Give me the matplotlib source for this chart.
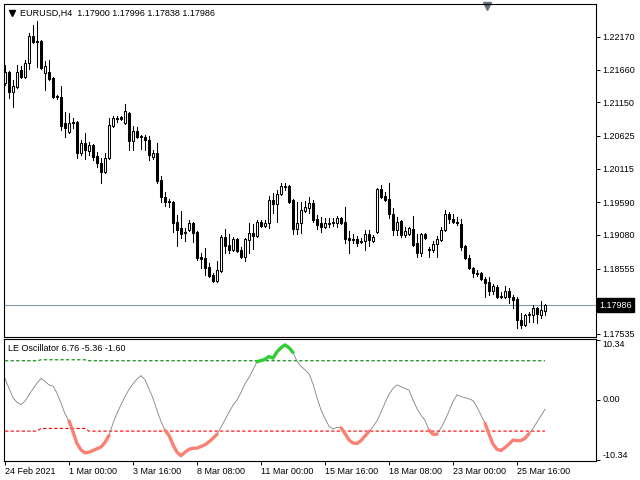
import numpy as np
import pandas as pd
import matplotlib
matplotlib.use('Agg')
import matplotlib.pyplot as plt
from matplotlib.patches import Rectangle
from matplotlib.transforms import blended_transform_factory

plt.rcParams['font.family'] = ['Liberation Sans', 'DejaVu Sans']
plt.rcParams['font.size'] = 6.5

symbol = 'EURUSD,H4'
start_time = '2021-02-24 08:00'

opens = [
    1.2145, 1.2162, 1.2131, 1.2139, 1.2165, 1.2155, 1.2176, 1.2218, 1.2211, 1.2211,
    1.2161, 1.2162, 1.2153, 1.2125, 1.2123, 1.2083, 1.2069, 1.2083, 1.2084, 1.2036,
    1.2052, 1.2039, 1.2048, 1.2031, 1.2020, 1.2006, 1.2028, 1.2078, 1.2089, 1.2092,
    1.2083, 1.2098, 1.2055, 1.2070, 1.2062, 1.2061, 1.2056, 1.2030, 1.2036, 1.1994,
    1.1967, 1.1961, 1.1959, 1.1928, 1.1919, 1.1913, 1.1916, 1.1927, 1.1913, 1.1874,
    1.1872, 1.1858, 1.1846, 1.1836, 1.1852, 1.1905, 1.1892, 1.1885, 1.1902, 1.1885,
    1.1874, 1.1900, 1.1911, 1.1906, 1.1928, 1.1922, 1.1927, 1.1963, 1.1956, 1.1972,
    1.1983, 1.1984, 1.1963, 1.1917, 1.1927, 1.1945, 1.1950, 1.1958, 1.1933, 1.1927,
    1.1920, 1.1927, 1.1927, 1.1927, 1.1935, 1.1928, 1.1903, 1.1902, 1.1902, 1.1899,
    1.1899, 1.1910, 1.1899, 1.1913, 1.1980, 1.1969, 1.1964, 1.1941, 1.1916, 1.1930,
    1.1908, 1.1910, 1.1917, 1.1896, 1.1880, 1.1910, 1.1886, 1.1885, 1.1894, 1.1900,
    1.1916, 1.1941, 1.1933, 1.1928, 1.1925, 1.1891, 1.1872, 1.1856, 1.1849, 1.1849,
    1.1839, 1.1835, 1.1821, 1.1827, 1.1813, 1.1811, 1.1821, 1.1811, 1.1808, 1.1775,
    1.1768, 1.1783, 1.1783, 1.1794, 1.1783, 1.17900]
highs = [
    1.2173, 1.2164, 1.2150, 1.2173, 1.2172, 1.2181, 1.2223, 1.2236, 1.2242, 1.2212,
    1.2180, 1.2181, 1.2155, 1.2126, 1.2140, 1.2100, 1.2098, 1.2091, 1.2086, 1.2056,
    1.2067, 1.2053, 1.2050, 1.2038, 1.2028, 1.2036, 1.2091, 1.2094, 1.2094, 1.2094,
    1.2112, 1.2100, 1.2078, 1.2077, 1.2064, 1.2064, 1.2062, 1.2041, 1.2052, 1.2000,
    1.1975, 1.1964, 1.1961, 1.1939, 1.1945, 1.1919, 1.1931, 1.1928, 1.1914, 1.1880,
    1.1888, 1.1864, 1.1849, 1.1867, 1.1908, 1.1917, 1.1910, 1.1905, 1.1903, 1.1889,
    1.1903, 1.1927, 1.1925, 1.1931, 1.1931, 1.1931, 1.1969, 1.1974, 1.1978, 1.1989,
    1.1989, 1.1986, 1.1964, 1.1959, 1.1959, 1.1961, 1.1967, 1.1963, 1.1939, 1.1936,
    1.1935, 1.1935, 1.1935, 1.1938, 1.1936, 1.1952, 1.1914, 1.1910, 1.1906, 1.1903,
    1.1916, 1.1916, 1.1908, 1.1981, 1.1986, 1.1975, 1.1989, 1.1950, 1.1936, 1.1931,
    1.1920, 1.1920, 1.1938, 1.1910, 1.1911, 1.1911, 1.1889, 1.1899, 1.1906, 1.1920,
    1.1947, 1.1944, 1.1941, 1.1936, 1.1933, 1.1892, 1.1877, 1.1858, 1.1853, 1.1850,
    1.1842, 1.1842, 1.1832, 1.1830, 1.1819, 1.1828, 1.1825, 1.1814, 1.1811, 1.1786,
    1.1785, 1.1788, 1.1799, 1.1796, 1.1805, 1.17996]
lows = [
    1.2142, 1.2122, 1.2108, 1.2137, 1.2153, 1.2153, 1.2167, 1.2208, 1.2170, 1.2167,
    1.2134, 1.2150, 1.2122, 1.2120, 1.2072, 1.2061, 1.2067, 1.2075, 1.2028, 1.2033,
    1.2027, 1.2033, 1.2025, 1.2014, 1.1989, 1.2005, 1.2027, 1.2077, 1.2084, 1.2087,
    1.2081, 1.2041, 1.2041, 1.2059, 1.2042, 1.2041, 1.2025, 1.2027, 1.1989, 1.1959,
    1.1953, 1.1952, 1.1913, 1.1891, 1.1903, 1.1899, 1.1914, 1.1897, 1.1869, 1.1856,
    1.1846, 1.1842, 1.1835, 1.1835, 1.1850, 1.1880, 1.1880, 1.1883, 1.1881, 1.1872,
    1.1867, 1.1880, 1.1886, 1.1905, 1.1920, 1.1920, 1.1919, 1.1942, 1.1928, 1.1970,
    1.1978, 1.1958, 1.1910, 1.1910, 1.1911, 1.1944, 1.1942, 1.1928, 1.1917, 1.1913,
    1.1919, 1.1920, 1.1922, 1.1920, 1.1925, 1.1896, 1.1880, 1.1896, 1.1891, 1.1896,
    1.1885, 1.1891, 1.1897, 1.1911, 1.1966, 1.1961, 1.1935, 1.1908, 1.1908, 1.1905,
    1.1905, 1.1908, 1.1891, 1.1874, 1.1875, 1.1902, 1.1874, 1.1881, 1.1874, 1.1899,
    1.1914, 1.1927, 1.1927, 1.1924, 1.1885, 1.1871, 1.1855, 1.1842, 1.1844, 1.1838,
    1.1811, 1.1814, 1.1816, 1.1810, 1.1810, 1.1810, 1.1802, 1.1794, 1.1763, 1.1763,
    1.1766, 1.1772, 1.1772, 1.1771, 1.1778, 1.17838]
closes = [
    1.2162, 1.2131, 1.2140, 1.2162, 1.2155, 1.2176, 1.2218, 1.2209, 1.2209, 1.2169,
    1.2172, 1.2151, 1.2123, 1.2123, 1.2078, 1.2075, 1.2083, 1.2084, 1.2036, 1.2052,
    1.2041, 1.2048, 1.2030, 1.2020, 1.2006, 1.2028, 1.2080, 1.2091, 1.2091, 1.2089,
    1.2101, 1.2055, 1.2070, 1.2061, 1.2061, 1.2056, 1.2033, 1.2036, 1.1992, 1.1967,
    1.1959, 1.1959, 1.1927, 1.1916, 1.1910, 1.1911, 1.1927, 1.1911, 1.1872, 1.1871,
    1.1856, 1.1844, 1.1836, 1.1853, 1.1905, 1.1891, 1.1885, 1.1902, 1.1883, 1.1874,
    1.1902, 1.1911, 1.1906, 1.1928, 1.1922, 1.1927, 1.1963, 1.1956, 1.1972, 1.1984,
    1.1984, 1.1959, 1.1917, 1.1927, 1.1947, 1.1952, 1.1958, 1.1931, 1.1924, 1.1920,
    1.1927, 1.1925, 1.1928, 1.1935, 1.1927, 1.1902, 1.1900, 1.1900, 1.1896, 1.1897,
    1.1910, 1.1900, 1.1905, 1.1980, 1.1967, 1.1963, 1.1941, 1.1916, 1.1928, 1.1908,
    1.1914, 1.1919, 1.1892, 1.1880, 1.1910, 1.1903, 1.1885, 1.1894, 1.1902, 1.1916,
    1.1941, 1.1933, 1.1928, 1.1927, 1.1889, 1.1872, 1.1856, 1.1849, 1.1847, 1.1839,
    1.1833, 1.1821, 1.1828, 1.1811, 1.1811, 1.1821, 1.1811, 1.1807, 1.1775, 1.1768,
    1.1783, 1.1785, 1.1794, 1.1785, 1.1791, 1.17986]

# LE oscillator and its two levels
osc = [
    3.7, 2.0, 0.4, -0.4, -0.8, -0.2, 0.9, 1.9, 2.9, 3.7,
    3.2, 2.6, 2.4, 1.2, -0.5, -2.4, -3.6, -5.5, -7.5, -8.6,
    -9.1, -9.0, -8.7, -8.4, -8.1, -7.3, -6.1, -4.0, -2.3, -0.8,
    0.6, 1.8, 2.8, 3.6, 4.2, 3.5, 1.9, 0.3, -1.8, -3.7,
    -5.2, -6.1, -7.7, -9.0, -9.6, -9.0, -8.5, -8.3, -8.3, -8.0,
    -7.7, -7.2, -6.6, -5.9, -4.7, -3.4, -2.1, -0.9, 0.0, 1.3,
    2.8, 3.9, 5.2, 6.6, 6.8, 7.0, 7.5, 7.2, 8.3, 9.0,
    9.5, 9.0, 8.2, 6.7, 5.8, 5.2, 4.5, 2.8, 0.4, -1.7,
    -3.2, -4.5, -5.0, -4.7, -4.8, -5.8, -6.9, -7.4, -7.5, -7.0,
    -6.2, -5.4, -4.6, -3.6, -2.1, -0.5, 1.0, 2.0, 2.6, 2.3,
    2.0, 1.7, 0.0, -1.5, -2.6, -3.5, -5.2, -5.9, -5.9, -4.8,
    -3.5, -1.9, -0.3, 0.9, 0.6, 0.4, 0.2, -0.1, -1.2, -2.6,
    -4.0, -5.9, -7.6, -8.5, -8.7, -8.2, -7.6, -6.9, -7.0, -7.0,
    -6.6, -5.8, -4.9, -3.8, -2.7, -1.6]
upper_band = [6.76] * 9 + [6.93] * 12 + [6.76] * 115
lower_band = [-5.36] * 9 + [-4.9] * 12 + [-5.36] * 115
red_zones = [(16, 26), (40, 53), (84, 91), (106, 108), (120, 131)]
green_zones = [(63, 72)]

price_ticks = [1.22170, 1.21660, 1.21150, 1.20625, 1.20115, 1.19590,
               1.19080, 1.18555, 1.18045, 1.17535]
osc_ticks = [10.34, 0.0, -10.34]

n = len(closes)
x = np.arange(n)
days = pd.date_range(start_time, periods=n * 2, freq='4h')
times = days[days.dayofweek < 5][:n]

fig = plt.figure(figsize=(6.4, 4.8), dpi=100)
ax = fig.add_axes([4 / 640, 1 - 337 / 480, 592 / 640, 333 / 480])
ax2 = fig.add_axes([4 / 640, 19 / 480, 592 / 640, 122 / 480])

# candles
for i in range(n):
    o, h, l, c = opens[i], highs[i], lows[i], closes[i]
    ax.plot([i, i], [l, h], color='black', lw=0.75, zorder=2)
    fc = 'white' if c > o else 'black'
    ax.add_patch(Rectangle((i - 0.27, min(o, c)), 0.54, abs(c - o),
                           facecolor=fc, edgecolor='black', lw=0.75, zorder=3))

ax.axhline(closes[-1], color='#8c9aa8', lw=0.8, zorder=1)
ax.set_xlim(-0.25, 147.75)
ax.set_ylim(1.17488, 1.22685)
ax.set_xticks([])
ax.yaxis.tick_right()
ax.set_yticks(price_ticks)
ax.set_yticklabels([f'{p:.5f}' for p in price_ticks])
ax.tick_params(axis='y', direction='out', length=3, width=0.7, pad=1.5)

tr = blended_transform_factory(ax.transAxes, ax.transData)
ax.text(1.005, closes[-1], f'{closes[-1]:.5f}', transform=tr, color='white',
        va='center', ha='left', zorder=10, clip_on=False,
        bbox=dict(boxstyle='square,pad=0.25', fc='black', ec='black'))

ax.plot([0.0127], [0.9715], marker='v', ms=4.5, color='black',
        transform=ax.transAxes, clip_on=False)
ax.text(0.027, 0.973,
        f'{symbol}  {opens[-1]:.5f} {highs[-1]:.5f} {lows[-1]:.5f} {closes[-1]:.5f}',
        transform=ax.transAxes, va='center', ha='left')
ax.plot([0.816], [0.994], marker='v', ms=6, color='#6b7580',
        transform=ax.transAxes, clip_on=False)

# oscillator panel
ax2.plot(x, upper_band, color='#008000', lw=0.8, ls=(0, (3, 2)))
ax2.plot(x, lower_band, color='#ff0000', lw=0.8, ls=(0, (3, 2)))
ax2.plot(x, osc, color='#808080', lw=0.6)
for a, b in red_zones:
    ax2.plot(x[a:b + 1], osc[a:b + 1], color='#fa8072', lw=2.4, solid_capstyle='round')
for a, b in green_zones:
    ax2.plot(x[a:b + 1], osc[a:b + 1], color='#32cd32', lw=2.4, solid_capstyle='round')

ax2.set_xlim(-0.25, 147.75)
ax2.set_ylim(-10.51, 10.51)
ax2.yaxis.tick_right()
ax2.set_yticks(osc_ticks)
ax2.set_yticklabels([f'{v:.2f}' for v in osc_ticks])
for lab, va in zip(ax2.get_yticklabels(), ['top', 'center', 'bottom']):
    lab.set_verticalalignment(va)
ax2.tick_params(axis='y', direction='out', length=3, width=0.7, pad=1.5)

tick_idx = list(range(0, n, 16))
tick_labels = [times[0].strftime('%d %b %Y')] + \
    [f'{times[i].day} {times[i].strftime("%b %H:%M")}' for i in tick_idx[1:]]
ax2.set_xticks(tick_idx)
ax2.set_xticklabels(tick_labels, ha='left')
ax2.tick_params(axis='x', direction='out', length=3, width=0.7, pad=1)

ax2.text(0.007, 0.926,
         f'LE Oscillator {upper_band[-1]:.2f} {lower_band[-1]:.2f} {osc[-1]:.2f}',
         transform=ax2.transAxes, va='center', ha='left')

for a in (ax, ax2):
    for s in a.spines.values():
        s.set_linewidth(0.8)

fig.savefig('out.png', dpi=100)
